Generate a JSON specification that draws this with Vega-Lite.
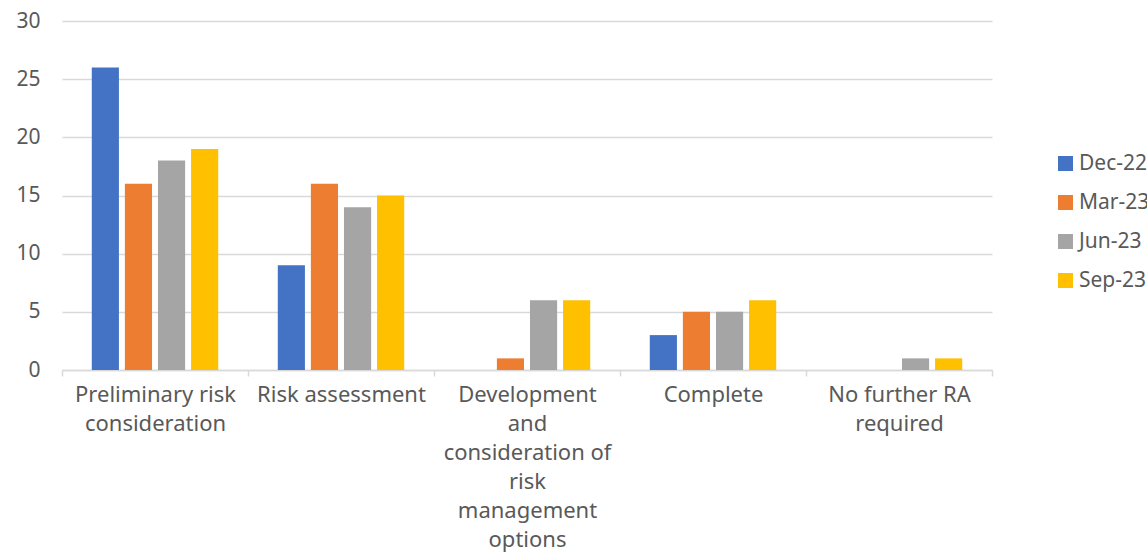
{
  "$schema": "https://vega.github.io/schema/vega-lite/v6.json",
  "width": 930,
  "height": 349,
  "autosize": {"type": "none"},
  "padding": {"left": 62, "top": 21, "right": 155, "bottom": 186},
  "background": "white",
  "config": {
    "view": {"stroke": null},
    "font": "Noto Sans",
    "axis": {"labelFont": "Noto Sans", "labelColor": "#595959"},
    "legend": {"labelFont": "Noto Sans", "labelColor": "#595959"}
  },
  "data": {
    "values": [
      {"stage": "Preliminary risk consideration", "period": "Dec-22", "count": 26},
      {"stage": "Preliminary risk consideration", "period": "Mar-23", "count": 16},
      {"stage": "Preliminary risk consideration", "period": "Jun-23", "count": 18},
      {"stage": "Preliminary risk consideration", "period": "Sep-23", "count": 19},
      {"stage": "Risk assessment", "period": "Dec-22", "count": 9},
      {"stage": "Risk assessment", "period": "Mar-23", "count": 16},
      {"stage": "Risk assessment", "period": "Jun-23", "count": 14},
      {"stage": "Risk assessment", "period": "Sep-23", "count": 15},
      {"stage": "Development and consideration of risk management options", "period": "Dec-22", "count": 0},
      {"stage": "Development and consideration of risk management options", "period": "Mar-23", "count": 1},
      {"stage": "Development and consideration of risk management options", "period": "Jun-23", "count": 6},
      {"stage": "Development and consideration of risk management options", "period": "Sep-23", "count": 6},
      {"stage": "Complete", "period": "Dec-22", "count": 3},
      {"stage": "Complete", "period": "Mar-23", "count": 5},
      {"stage": "Complete", "period": "Jun-23", "count": 5},
      {"stage": "Complete", "period": "Sep-23", "count": 6},
      {"stage": "No further RA required", "period": "Dec-22", "count": 0},
      {"stage": "No further RA required", "period": "Mar-23", "count": 0},
      {"stage": "No further RA required", "period": "Jun-23", "count": 1},
      {"stage": "No further RA required", "period": "Sep-23", "count": 1}
    ]
  },
  "mark": {"type": "bar"},
  "encoding": {
    "x": {
      "field": "stage",
      "type": "nominal",
      "sort": null,
      "title": null,
      "scale": {"paddingInner": 0, "paddingOuter": 0},
      "axis": {
        "labelAngle": 0,
        "labelFontSize": 22,
        "labelLineHeight": 29,
        "labelBaseline": "top",
        "labelPadding": 8,
        "labelLimit": 0,
        "tickBand": "extent",
        "tickSize": 6,
        "tickColor": "#d9d9d9",
        "tickWidth": 1.5,
        "domainColor": "#d9d9d9",
        "domainWidth": 1.5,
        "grid": false,
        "labelExpr": "datum.value == 'Preliminary risk consideration' ? ['Preliminary risk', 'consideration'] : datum.value == 'Development and consideration of risk management options' ? ['Development', 'and', 'consideration of', 'risk', 'management', 'options'] : datum.value == 'No further RA required' ? ['No further RA', 'required'] : datum.value"
      }
    },
    "xOffset": {
      "field": "period",
      "type": "nominal",
      "sort": ["Dec-22", "Mar-23", "Jun-23", "Sep-23"],
      "scale": {"paddingInner": 0.18, "paddingOuter": 0.9}
    },
    "y": {
      "field": "count",
      "type": "quantitative",
      "title": null,
      "scale": {"domain": [0, 30]},
      "axis": {
        "values": [0, 5, 10, 15, 20, 25, 30],
        "domain": false,
        "ticks": false,
        "labelFontSize": 21,
        "labelPadding": 22,
        "gridColor": "#d9d9d9",
        "gridWidth": 1.5
      }
    },
    "color": {
      "field": "period",
      "type": "nominal",
      "sort": ["Dec-22", "Mar-23", "Jun-23", "Sep-23"],
      "scale": {
        "domain": ["Dec-22", "Mar-23", "Jun-23", "Sep-23"],
        "range": ["#4472C4", "#ED7D31", "#A5A5A5", "#FFC000"]
      },
      "legend": {
        "title": null,
        "orient": "none",
        "legendX": 993,
        "legendY": 132,
        "symbolType": "square",
        "symbolSize": 225,
        "symbolStrokeWidth": 0,
        "labelFontSize": 21,
        "rowPadding": 17,
        "labelOffset": 3
      }
    }
  }
}
